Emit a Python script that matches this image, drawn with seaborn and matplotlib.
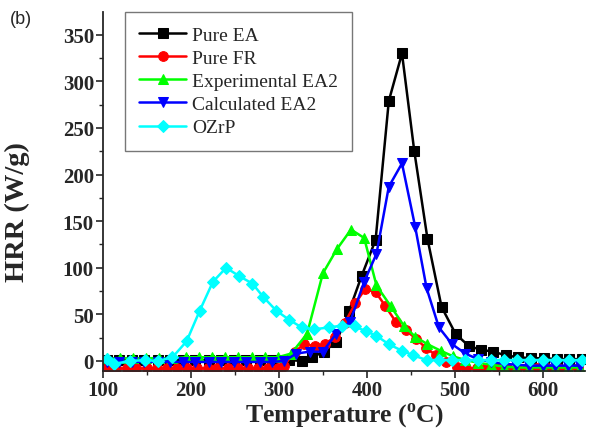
import numpy as np
import matplotlib
matplotlib.use('Agg')
import matplotlib.pyplot as plt
import seaborn as sns
from matplotlib.ticker import MultipleLocator

################################################################
# data:
ea_t = [104, 118, 133, 147, 162, 176, 191, 205, 220, 234, 249, 263, 278, 292, 307, 312,
        326, 338, 351, 365, 380, 394, 410, 425, 440, 454, 469, 485, 501, 516, 530, 544,
        558, 572, 587, 601, 616, 630, 645]
ea_hrr = [1, 1, 1, 1, 1, 1, 1, 1, 1, 1, 1, 1, 1, 1, 1, 1,
          0, 4, 10, 20, 54, 91, 130, 279, 330, 225, 131, 58, 29, 16, 12, 10,
          6, 4, 3, 3, 2, 2, 2]

fr_t = [104, 115, 127, 138, 150, 161, 173, 184, 196, 207, 219, 230, 242, 253, 265, 276,
        288, 299, 306, 318, 329, 341, 352, 364, 375, 387, 398, 410, 421, 433, 444, 456,
        467, 479, 490, 502, 513, 525, 536, 548, 559, 571, 582, 594, 605, 617, 628, 640]
fr_hrr = [-8, -8, -8, -8, -8, -8, -8, -8, -8, -8, -8, -8, -8, -8, -8, -8,
          -8, -7, -5, 10, 18, 16, 18, 26, 41, 62, 77, 74, 59, 42, 33, 24,
          14, 6, -1, -6, -8, -8, -8, -8, -8, -8, -8, -8, -8, -8, -8, -8]

exp_t = [104, 119, 134, 149, 164, 179, 194, 209, 224, 239, 254, 269, 284, 299, 314, 332,
         350, 366, 382, 397, 411, 427, 442, 455, 469, 484, 498, 512, 527, 541, 556, 570,
         585, 600, 614, 629, 643]
exp_hrr = [3, 3, 3, 3, 3, 3, 4, 4, 4, 4, 4, 4, 4, 4, 8, 29,
           94, 120, 141, 132, 81, 59, 38, 26, 18, 11, 5, 1, -2, -4, -6, -7,
           -7, -7, -7, -7, -7]

calc_t = [104, 118, 133, 147, 162, 176, 191, 205, 220, 234, 249, 263, 278, 292, 306, 320,
          335, 350, 365, 381, 397, 411, 425, 440, 455, 468, 482, 497, 512, 526, 541, 556,
          570, 585, 600, 614, 629, 643]
calc_hrr = [-1, -1, -1, -1, -1, -1, -1, -1, -1, -1, -1, -1, -1, -1, 0, 8,
            10, 10, 29, 42, 85, 115, 187, 212, 144, 78, 36, 18, 8, 2, -1, -3,
            -4, -5, -5, -5, -5, -5]

ozrp_t = [104, 113, 131, 148, 163, 179, 195, 210, 225, 240, 255, 270, 282, 297, 312, 326,
          340, 357, 372, 386, 399, 411, 425, 440, 453, 468, 482, 497, 512, 527, 541, 556,
          571, 586, 600, 615, 630, 645]
ozrp_hrr = [2, -3, 0, 1, 0, 4, 21, 54, 85, 100, 91, 83, 69, 54, 44, 36,
            34, 36, 38, 37, 32, 27, 18, 11, 6, 1, 1, 1, 1, 1, 1, 1,
            1, 1, 1, 1, 1, 1]

labels = ['Pure EA', 'Pure FR', 'Experimental EA2', 'Calculated EA2', 'OZrP']
colors = ['#000000', '#ff0000', '#00ff00', '#0000ff', '#00ffff']
markers = ['s', 'o', '^', 'v', 'D']

################################################################
# plot:
sns.set_style('ticks')
plt.rcParams['font.family'] = ['Liberation Serif', 'DejaVu Serif']
plt.rcParams['mathtext.fontset'] = 'custom'
plt.rcParams['mathtext.rm'] = 'Liberation Serif'
plt.rcParams['mathtext.bf'] = 'Liberation Serif:bold'

fig = plt.figure(figsize=(5.92, 4.31), dpi=100)
ax = fig.add_axes([0.174, 0.137, 0.814, 0.833])

series = [(ea_t, ea_hrr), (fr_t, fr_hrr), (exp_t, exp_hrr), (calc_t, calc_hrr), (ozrp_t, ozrp_hrr)]
for (t, hrr), lab, col, mk in zip(series, labels, colors, markers):
    ms = 6 if mk == 'D' else 7
    sns.lineplot(x=t, y=hrr, ax=ax, label=lab, color=col, marker=mk, markersize=ms,
                 markeredgecolor=col, linewidth=1.8, sort=False)

ax.set_xlim(100, 648)
ax.set_ylim(-10.7, 374.5)
ax.xaxis.set_major_locator(MultipleLocator(100))
ax.xaxis.set_minor_locator(MultipleLocator(50))
ax.yaxis.set_major_locator(MultipleLocator(50))
ax.yaxis.set_minor_locator(MultipleLocator(25))
ax.tick_params(which='major', direction='out', length=5, width=1.2, labelsize=15, pad=1.5)
ax.tick_params(which='minor', direction='out', length=3, width=1.0)
for lbl in ax.get_xticklabels() + ax.get_yticklabels():
    lbl.set_fontweight('bold')
sns.despine(ax=ax)
for sp in ['left', 'bottom']:
    ax.spines[sp].set_linewidth(1.3)

ax.set_xlabel(r'Temperature ($^{\mathbf{o}}$C)', fontsize=18.5, fontweight='bold')
ax.set_ylabel('HRR (W/g)', fontsize=20.5, fontweight='bold')
ax.xaxis.label.set_va('bottom')
ax.xaxis.set_label_coords(0.5, -0.162)
ax.yaxis.set_label_coords(-0.151, 0.446)

leg = ax.legend(loc='upper left', bbox_to_anchor=(0.045, 1.0), fontsize=14,
                frameon=True, fancybox=False, edgecolor='#555555', handlelength=2.4,
                borderpad=0.75, labelspacing=0.28, handletextpad=0.3, borderaxespad=0)
leg.get_frame().set_linewidth(1.0)

fig.text(0.017, 0.955, '(b)', fontsize=13, family=['Liberation Sans', 'DejaVu Sans'], va='center')

plt.savefig('out.png', dpi=100)
